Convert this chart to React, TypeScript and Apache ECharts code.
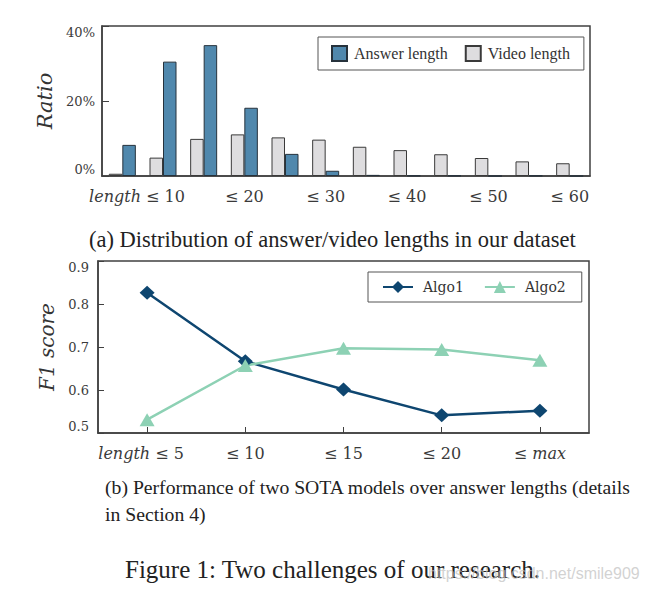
import React, { useEffect, useRef } from "react";
import * as echarts from "echarts";

const topCategories = ["≤ 5", "≤ 10", "≤ 15", "≤ 20", "≤ 25", "≤ 30", "≤ 35", "≤ 40", "≤ 45", "≤ 50", "≤ 55", "≤ 60"];
const answerLength = [8.3, 30.5, 34.9, 18.2, 5.9, 1.4, 0.3, 0.1, 0.1, 0, 0.1, 0];
const videoLength = [0.6, 4.9, 9.9, 11.1, 10.3, 9.7, 7.8, 6.9, 5.8, 4.8, 3.9, 3.4];
const topYTicks = [0, 20, 40];

const bottomCategories = ["≤ 5", "≤ 10", "≤ 15", "≤ 20", "≤ max"];
const algo1 = [0.826, 0.667, 0.601, 0.541, 0.552];
const algo2 = [0.531, 0.657, 0.697, 0.694, 0.669];
const bottomYTicks = [0.5, 0.6, 0.7, 0.8, 0.9];

const captionA = "(a) Distribution of answer/video lengths in our dataset";
const captionB1 = "(b) Performance of two SOTA models over answer lengths (details";
const captionB2 = "in Section 4)";
const figCaption = "Figure 1: Two challenges of our research.";
const watermark = "https://blog.csdn.net/smile909";

const TICK_FONT = "DejaVu Serif";
const CAP_FONT = "Liberation Serif";
const AXIS_COLOR = "#404040";
const LABEL_COLOR = "#3a3a3a";

export default function App() {
  const ref = useRef<HTMLDivElement>(null);
  useEffect(() => {
    if (!ref.current) return;
    const chart = echarts.init(ref.current, null, { renderer: "svg" });
    const axisLine = { show: true, lineStyle: { color: AXIS_COLOR, width: 1.5 } };
    const option: any = {
      animation: false,
      backgroundColor: "#ffffff",
      grid: [
        { left: 102, top: 26, width: 488, height: 150, show: true, borderColor: AXIS_COLOR, borderWidth: 1.5 },
        { left: 98, top: 261, width: 491, height: 172, show: true, borderColor: AXIS_COLOR, borderWidth: 1.5 },
      ],
      legend: [
        {
          left: 318,
          top: 37,
          orient: "horizontal",
          data: ["Answer length", "Video length"],
          padding: [8, 14, 8, 13],
          borderColor: "#555",
          borderWidth: 1,
          itemGap: 17,
          itemWidth: 15,
          itemHeight: 15,
          icon: "rect",
          textStyle: { fontFamily: CAP_FONT, fontSize: 16, color: "#333", padding: [0, 0, 0, 2] },
        },
        {
          left: 368,
          top: 272,
          data: ["Algo1", "Algo2"],
          padding: [8, 16, 8, 14],
          borderColor: "#555",
          borderWidth: 1,
          itemGap: 20,
          itemWidth: 30,
          itemHeight: 15,
          textStyle: { fontFamily: TICK_FONT, fontSize: 14, color: "#333", padding: [0, 0, 0, 5] },
        },
      ],
      xAxis: [
        {
          type: "category",
          gridIndex: 0,
          data: topCategories,
          axisLine,
          axisTick: { show: false },
          axisLabel: {
            interval: (i: number) => i % 2 === 1,
            margin: 12,
            fontFamily: TICK_FONT,
            fontSize: 16,
            color: LABEL_COLOR,
            formatter: (v: string, i: number) => (i === 1 ? "{it|length} " + v + "{sp| }" : v),
            rich: {
              it: { fontFamily: TICK_FONT, fontStyle: "italic", fontSize: 16, color: LABEL_COLOR },
              sp: { width: 52, fontSize: 16 },
            },
          },
        },
        {
          type: "category",
          gridIndex: 1,
          data: bottomCategories,
          axisLine,
          axisTick: { show: true, inside: true, alignWithLabel: true, length: 6, lineStyle: { color: AXIS_COLOR } },
          axisLabel: {
            interval: 0,
            margin: 12,
            fontFamily: TICK_FONT,
            fontSize: 16,
            color: LABEL_COLOR,
            formatter: (v: string, i: number) =>
              i === 0 ? "{it|length} " + v + "{sp| }" : v === "≤ max" ? "≤ {it|max}" : v,
            rich: {
              it: { fontFamily: TICK_FONT, fontStyle: "italic", fontSize: 16, color: LABEL_COLOR },
              sp: { width: 12, fontSize: 16 },
            },
          },
        },
      ],
      yAxis: [
        {
          type: "value",
          gridIndex: 0,
          min: topYTicks[0],
          max: topYTicks[topYTicks.length - 1],
          interval: topYTicks[1] - topYTicks[0],
          name: "Ratio",
          nameLocation: "middle",
          nameGap: 45,
          nameTextStyle: { fontFamily: TICK_FONT, fontStyle: "italic", fontSize: 21, color: "#333" },
          axisLine,
          axisTick: { show: true, inside: true, length: 7, lineStyle: { color: AXIS_COLOR } },
          splitLine: { show: false },
          axisLabel: {
            margin: 7,
            fontFamily: TICK_FONT,
            fontSize: 13,
            color: LABEL_COLOR,
            formatter: "{value}%",
            verticalAlignMinLabel: "bottom",
            verticalAlignMaxLabel: "top",
          },
        },
        {
          type: "value",
          gridIndex: 1,
          min: bottomYTicks[0],
          max: bottomYTicks[bottomYTicks.length - 1],
          interval: 0.1,
          name: "F1 score",
          nameLocation: "middle",
          nameGap: 41,
          nameTextStyle: { fontFamily: TICK_FONT, fontStyle: "italic", fontSize: 20, color: "#333" },
          axisLine,
          axisTick: { show: true, inside: true, length: 6, lineStyle: { color: AXIS_COLOR } },
          splitLine: { show: false },
          axisLabel: {
            margin: 9,
            fontFamily: TICK_FONT,
            fontSize: 13,
            color: LABEL_COLOR,
            formatter: (v: number) => v.toFixed(1),
            verticalAlignMinLabel: "bottom",
            verticalAlignMaxLabel: "top",
          },
        },
      ],
      series: [
        {
          name: "Video length",
          type: "bar",
          xAxisIndex: 0,
          yAxisIndex: 0,
          data: videoLength,
          barWidth: 13.5,
          barGap: "0%",
          itemStyle: { color: "#dedddf", borderColor: "#3a3a3a", borderWidth: 1 },
        },
        {
          name: "Answer length",
          type: "bar",
          xAxisIndex: 0,
          yAxisIndex: 0,
          data: answerLength,
          barWidth: 13.5,
          barGap: "0%",
          itemStyle: { color: "#5088ad", borderColor: "#26323c", borderWidth: 1 },
        },
        {
          name: "Algo1",
          type: "line",
          xAxisIndex: 1,
          yAxisIndex: 1,
          data: algo1,
          symbol: "diamond",
          symbolSize: [15, 14],
          lineStyle: { color: "#0e4670", width: 2.5 },
          itemStyle: { color: "#0e4670" },
        },
        {
          name: "Algo2",
          type: "line",
          xAxisIndex: 1,
          yAxisIndex: 1,
          data: algo2,
          symbol: "triangle",
          symbolSize: [15, 13],
          lineStyle: { color: "#8dd1b4", width: 2.5 },
          itemStyle: { color: "#8dd1b4" },
        },
      ],
      graphic: [
        {
          type: "text",
          x: 89,
          y: 239,
          style: { text: captionA, fontFamily: CAP_FONT, fontSize: 22.5, fill: "#222", align: "left", verticalAlign: "middle" },
        },
        {
          type: "text",
          x: 105,
          y: 487,
          style: { text: captionB1, fontFamily: CAP_FONT, fontSize: 19.7, fill: "#222", align: "left", verticalAlign: "middle" },
        },
        {
          type: "text",
          x: 105,
          y: 514,
          style: { text: captionB2, fontFamily: CAP_FONT, fontSize: 19.7, fill: "#222", align: "left", verticalAlign: "middle" },
        },
        {
          type: "text",
          x: 125,
          y: 569,
          style: { text: figCaption, fontFamily: CAP_FONT, fontSize: 25, fill: "#222", align: "left", verticalAlign: "middle" },
        },
        {
          type: "text",
          x: 428,
          y: 573,
          style: { text: watermark, fontFamily: "Liberation Sans", fontSize: 16, fill: "rgba(190,190,190,0.7)", align: "left", verticalAlign: "middle" },
        },
      ],
    };
    chart.setOption(option);
    return () => chart.dispose();
  }, []);
  return (
    <div
      ref={ref}
      style={{ position: "absolute", left: 0, top: 0, width: 646, height: 594, background: "#fff" }}
    />
  );
}
